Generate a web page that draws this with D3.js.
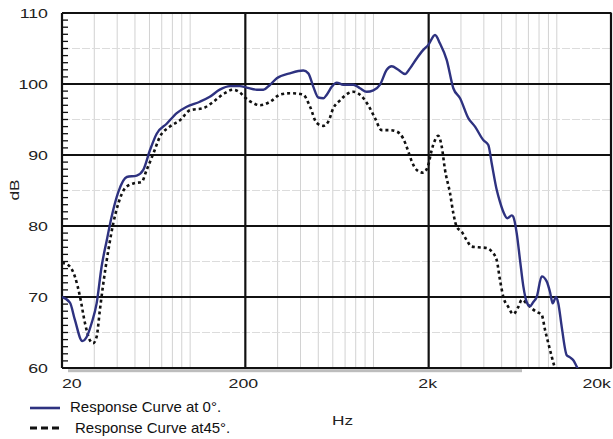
<!DOCTYPE html>
<html lang="en">
<head>
<meta charset="UTF-8">
<title>Response Curve</title>
<script src="https://d3js.org/d3.v7.min.js"></script>
<style>
    body { margin: 0; background: #fff; }
    svg { display: block; }
    .tick-label { font: 12.5px "Liberation Sans", Arial, sans-serif; fill: #222; }
    .legend-text { font: 15px "Liberation Sans", Arial, sans-serif; fill: #111; }
    .minor { stroke: #d2d2d2; stroke-width: 1; }
    .minor-h { stroke: #dcdcdc; stroke-width: 1; stroke-dasharray: 8,2; }
    .major { stroke: #111; stroke-width: 2.2; }
</style>
</head>
<body>
<div id="chart"></div>
<script>
// data
const freq0 = [20,22.1,23.5,25.8,27.3,29,30.9,32.9,35.1,37.3,
    40.6,45.1,51.1,55.5,60.4,65.7,74.5,84.5,95.8,113,
    128,145,165,187,203,231,251,273,297,350,
    414,441,470,500,533,556,592,630,684,776,
    844,918,998,1086,1181,1257,1366,1486,1582,1721,
    1870,1990,2166,2306,2508,2726,2966,3290,3580,3972,
    4230,4416,4700,4898,5108,5370,5676,5790,6042,6300,
    6568,6850,7140,7444,7768,8272,8808,9182,9498,9900,
    10190,10636,11326,11806,12304,12840,13384];
const db0 = [70.0,69.2,66.8,63.8,64.4,66.3,69.1,74.3,78.0,81.3,
    84.8,86.9,87.1,87.9,90.7,93.0,94.4,95.9,96.8,97.5,
    98.2,99.2,99.7,99.7,99.5,99.2,99.2,99.9,100.8,101.5,
    101.9,101.5,99.6,98.1,98.0,98.5,99.6,100.2,99.9,99.9,
    99.4,98.9,99.1,99.9,102.0,102.5,102.0,101.4,102.2,103.6,
    104.8,105.5,106.9,105.7,103.4,99.4,98.0,95.2,94.0,92.1,
    91.4,88.8,85.1,83.4,82.0,81.1,81.5,81.3,79.0,75.2,
    71.5,69.3,68.7,69.3,70.0,72.9,72.2,70.7,69.1,70.0,
    69.1,65.8,61.8,61.5,61.1,60.2,59.4];

const freq45 = [20,21.6,23.5,25.1,26.7,28.4,29.6,30.9,32.2,33.6,
    35.8,38.1,40.6,44.1,49,54.4,57.9,63,68.5,77.6,
    88,99.8,118,134,152,172,187,199,221,240,
    273,309,350,397,414,451,490,533,567,604,
    657,729,776,844,937,1019,1109,1230,1339,1454,
    1549,1617,1721,1870,1990,2078,2166,2258,2356,2456,
    2616,2726,2844,3028,3226,3434,3732,4146,4416,4700,
    4898,5108,5438,5790,6166,6436,6850,7296,7768,8272,
    8620,8986,9382,9656,9900];
const db45 = [74.8,74.5,72.9,70.0,66.3,63.9,63.5,64.4,68.2,71.9,
    76.6,80.4,83.2,85.3,86.0,86.2,87.9,90.2,92.6,94.0,
    94.9,96.3,96.6,97.5,98.6,99.2,98.8,98.1,97.3,97.0,
    97.5,98.5,98.7,98.6,98.5,96.8,94.5,94.1,94.7,96.6,
    97.7,98.7,98.9,98.5,97.0,95.2,93.5,93.5,93.3,92.3,
    90.5,89.1,87.9,87.5,88.6,90.7,92.1,92.7,91.2,87.9,
    84.6,81.8,79.9,79.2,78.0,77.1,77.0,76.9,76.4,75.2,
    72.4,70.0,68.6,67.6,68.6,69.6,69.1,68.4,67.9,67.5,
    65.4,63.5,61.6,60.4,59.5];

const xTicks = [20, 200, 2000, 20000];
const xTickLabels = ["20", "200", "2k", "20k"];
const yTicks = [60, 70, 80, 90, 100, 110];
const seriesNames = ["Response Curve at 0°.", "Response Curve at45°."];

const width = 613, height = 439;
const mLeft = 62, mRight = 612, mTop = 13, mBottom = 368;

const svg = d3.select("#chart").append("svg")
    .attr("width", width)
    .attr("height", height);

const x = d3.scaleLog().domain([20, 20000]).range([mLeft, mRight]);
const y = d3.scaleLinear().domain([60, 110]).range([mBottom, mTop]);

// minor vertical grid (30..100 of each decade)
const minorX = [];
[10, 100, 1000].forEach(d => {
    for (let m = 3; m <= 10; m++) minorX.push(d * m);
});
svg.selectAll(".minor-v")
    .data(minorX)
    .enter().append("line")
    .attr("class", "minor")
    .attr("x1", d => x(d)).attr("x2", d => x(d))
    .attr("y1", mTop).attr("y2", mBottom);

// minor horizontal grid at 5 dB
svg.selectAll(".minor-h")
    .data(d3.range(65, 110, 10))
    .enter().append("line")
    .attr("class", "minor-h")
    .attr("x1", mLeft).attr("x2", mRight)
    .attr("y1", d => y(d)).attr("y2", d => y(d));

// major lines
svg.selectAll(".major-h")
    .data(yTicks)
    .enter().append("line")
    .attr("class", "major")
    .attr("x1", mLeft).attr("x2", mRight - 0.5)
    .attr("y1", d => y(d)).attr("y2", d => y(d));
svg.selectAll(".major-v")
    .data(xTicks)
    .enter().append("line")
    .attr("class", "major")
    .attr("x1", (d, i) => i === 3 ? x(d) - 1 : x(d))
    .attr("x2", (d, i) => i === 3 ? x(d) - 1 : x(d))
    .attr("y1", mTop).attr("y2", mBottom);

// shadow under the x axis
svg.append("rect")
    .attr("x", 68).attr("y", mBottom + 1.2)
    .attr("width", 454).attr("height", 3)
    .attr("fill", "#bdbdbd");

// small 1 dB ticks on the left axis
svg.selectAll(".ytick-minor")
    .data(d3.range(60, 111, 1))
    .enter().append("line")
    .attr("x1", mLeft).attr("x2", mLeft + 6)
    .attr("y1", d => y(d)).attr("y2", d => y(d))
    .attr("stroke", "#111")
    .attr("stroke-width", 1.3);

// curves
svg.append("clipPath").attr("id", "plot-clip")
    .append("rect")
    .attr("x", mLeft).attr("y", mTop)
    .attr("width", mRight - mLeft).attr("height", mBottom - mTop);

const line = d3.line()
    .x(d => x(d[0]))
    .y(d => y(d[1]))
    .curve(d3.curveMonotoneX);

const g = svg.append("g").attr("clip-path", "url(#plot-clip)");
g.append("path")
    .datum(freq45.map((f, i) => [f, db45[i]]))
    .attr("d", line)
    .attr("fill", "none")
    .attr("stroke", "#111")
    .attr("stroke-width", 2.6)
    .attr("stroke-dasharray", "3,3");
g.append("path")
    .datum(freq0.map((f, i) => [f, db0[i]]))
    .attr("d", line)
    .attr("fill", "none")
    .attr("stroke", "#2e3280")
    .attr("stroke-width", 2.4);

// tick labels (the font in the picture is stretched wide)
svg.selectAll(".ylab")
    .data(yTicks)
    .enter().append("text")
    .attr("class", "tick-label")
    .attr("text-anchor", "end")
    .attr("transform", d => `translate(48,${y(d) + 5}) scale(1.42,1)`)
    .text(d => d);

const anchors = ["start", "middle", "middle", "end"];
const offs = [0, -2, -1, -1];
svg.selectAll(".xlab")
    .data(xTicks)
    .enter().append("text")
    .attr("class", "tick-label")
    .attr("text-anchor", (d, i) => anchors[i])
    .attr("transform", (d, i) => `translate(${x(d) + offs[i]},388) scale(1.42,1)`)
    .text((d, i) => xTickLabels[i]);

svg.append("text")
    .attr("class", "tick-label")
    .attr("transform", "translate(19,190) rotate(-90) scale(1.38,1)")
    .attr("text-anchor", "middle")
    .text("dB");

svg.append("text")
    .attr("class", "tick-label")
    .attr("transform", "translate(332,425) scale(1.38,1)")
    .text("Hz");

// legend
const legend = svg.append("g");
legend.append("line")
    .attr("x1", 30).attr("x2", 60).attr("y1", 408).attr("y2", 408)
    .attr("stroke", "#2e3280").attr("stroke-width", 2.6);
legend.append("line")
    .attr("x1", 30).attr("x2", 60).attr("y1", 428).attr("y2", 428)
    .attr("stroke", "#111").attr("stroke-width", 3)
    .attr("stroke-dasharray", "7,4");
legend.append("text").attr("class", "legend-text")
    .attr("x", 70).attr("y", 412).text(seriesNames[0]);
legend.append("text").attr("class", "legend-text")
    .attr("x", 75).attr("y", 433).text(seriesNames[1]);
</script>
</body>
</html>
